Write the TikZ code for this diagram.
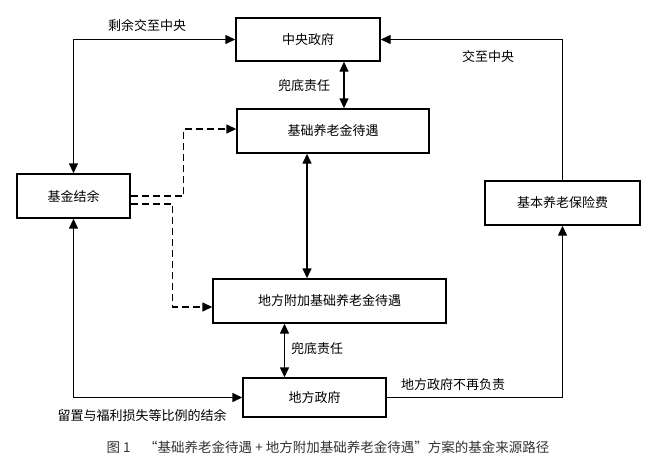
\documentclass[tikz,border=0pt]{standalone}
\usepackage{fontspec}
\setmainfont{Noto Sans CJK SC}
\usetikzlibrary{arrows.meta}

\begin{document}
\begin{tikzpicture}[x=1pt,y=-1pt,line width=1.4pt,>={Triangle[length=10pt,width=9pt]},
    box/.style={draw,rectangle,inner sep=0pt,font=\fontsize{13}{15}\selectfont},
    lbl/.style={font=\fontsize{13}{15}\selectfont}]
        \useasboundingbox (0,0) rectangle (660,471);
        \node[box,minimum width=144pt,minimum height=43pt] (zy) at (308,39.5) {中央政府};
        \node[box,minimum width=192pt,minimum height=44pt] (jc) at (333,131) {基础养老金待遇};
        \node[box,minimum width=113pt,minimum height=44pt] (jj) at (73.5,196) {基金结余};
        \node[box,minimum width=155pt,minimum height=44pt] (bx) at (562.5,203) {基本养老保险费};
        \node[box,minimum width=233pt,minimum height=44pt] (df) at (329.5,301) {地方附加基础养老金待遇};
        \node[box,minimum width=143pt,minimum height=39pt] (dz) at (314.5,397.5) {地方政府};
        \node[lbl] (l1) at (147,26) {剩余交至中央};
        \node[lbl] (l2) at (304,86) {兜底责任};
        \node[lbl] (l3) at (488,57) {交至中央};
        \node[lbl] (l4) at (317,349) {兜底责任};
        \node[lbl] (l5) at (453,385) {地方政府不再负责};
        \node[lbl] (l6) at (142,416) {留置与福利损失等比例的结余};
        \node[font=\fontsize{13.5}{15}\selectfont,text=black!80] (cap) at (328,447) {图 1\quad “基础养老金待遇 + 地方附加基础养老金待遇”方案的基金来源路径};
        \draw[<->] (jj.north) |- (zy.west);
        \draw[<->] ([xshift=36pt]zy.south) -- ([xshift=36pt]zy.south |- jc.north);
        \draw[->] (bx.north) |- (zy.east);
        \draw[<->] ([xshift=-26pt]jc.south) -- ([xshift=-26pt]jc.south |- df.north);
        \draw[<->] ([xshift=-30pt]dz.north) -- ([xshift=-30pt]dz.north |- df.south);
        \draw[<->] (jj.south) |- (dz.west);
        \draw[->] (dz.east) -| (bx.south);
        \draw[->,dash pattern=on 7pt off 4pt] (jj.east) -- ++(53,0) |- ([yshift=2pt]jc.west);
        \draw[->,dash pattern=on 7pt off 4pt] ([yshift=-8pt]jj.east) -- ++(42,0) |- ([yshift=-6pt]df.west);
    \end{tikzpicture}
\end{document}
